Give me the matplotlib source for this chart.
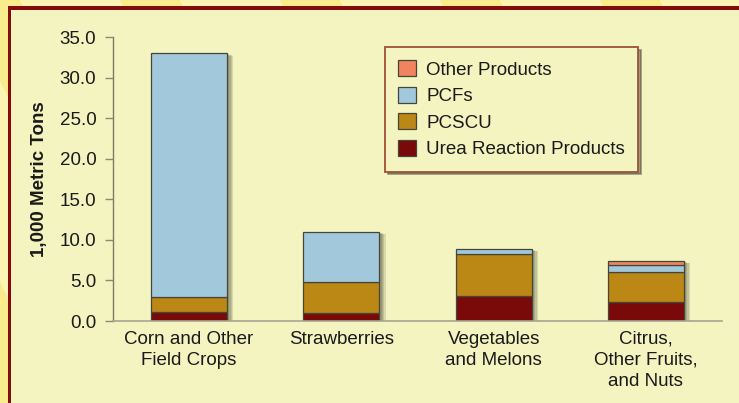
import matplotlib
matplotlib.use('Agg')
import matplotlib.pyplot as plt
import matplotlib.patheffects as pe
from matplotlib.patches import Rectangle, Polygon
import numpy as np

plt.rcParams['font.family'] = ['Liberation Sans', 'DejaVu Sans']

categories = ['Corn and Other\nField Crops', 'Strawberries',
              'Vegetables\nand Melons', 'Citrus,\nOther Fruits,\nand Nuts']
urea = [1.1, 1.0, 3.1, 2.3]
pcscu = [1.8, 3.8, 5.1, 3.8]
pcfs = [30.1, 6.2, 0.7, 0.8]
other = [0.0, 0.0, 0.0, 0.5]

c_urea = '#7a0a0a'
c_pcscu = '#bb8715'
c_pcfs = '#a2c8dc'
c_other = '#f0845e'

fs = 13.5

fig = plt.figure(figsize=(7.39, 4.03), dpi=100)
fig.patch.set_facecolor('#fcf6b4')

# striped outer background, dark red frame and cream panel
W, H = 739, 403
for x0 in range(-200, 900, 160):
    fig.patches.append(Polygon([(x0 / W, 1), ((x0 + 60) / W, 1),
                                ((x0 + 260) / W, 0), ((x0 + 200) / W, 0)],
                               closed=True, transform=fig.transFigure,
                               facecolor='#f8ec8c', edgecolor='none', zorder=-3))
fig.patches.append(Rectangle((8 / W, 0), 1, (H - 6) / H, transform=fig.transFigure,
                             facecolor='#840c0c', edgecolor='none', zorder=-2))
fig.patches.append(Rectangle((11 / W, 0), 1, (H - 10) / H, transform=fig.transFigure,
                             facecolor='#f3f4c0', edgecolor='none', zorder=-1))

ax = fig.add_axes([113 / W, 82 / H, 609 / W, 284 / H])
ax.set_facecolor('none')

x = np.arange(len(categories))
width = 0.5
urea_a = np.array(urea)
pcscu_a = np.array(pcscu)
pcfs_a = np.array(pcfs)
other_a = np.array(other)
totals = urea_a + pcscu_a + pcfs_a + other_a

# soft drop shadow behind each stack
shadow = [pe.SimplePatchShadow(offset=(d, -d * 0.4), shadow_rgbFace='black', alpha=0.11)
          for d in (1.5, 2.5, 3.5, 4.5)]
ax.bar(x, totals, width, color='none', linewidth=0, path_effects=shadow, zorder=1)

kw = dict(width=width, edgecolor='#45453a', linewidth=0.9, zorder=2)
b1 = ax.bar(x, urea_a, color=c_urea, label='Urea Reaction Products', **kw)
b2 = ax.bar(x, pcscu_a, bottom=urea_a, color=c_pcscu, label='PCSCU', **kw)
b3 = ax.bar(x, pcfs_a, bottom=urea_a + pcscu_a, color=c_pcfs, label='PCFs', **kw)
mask = other_a > 0
b4 = ax.bar(x[mask], other_a[mask], bottom=(urea_a + pcscu_a + pcfs_a)[mask],
            color=c_other, label='Other Products', **kw)

ax.set_xlim(-0.5, 3.5)
ax.set_ylim(0, 35)
ax.set_yticks(np.arange(0, 35.1, 5))
ax.set_yticklabels([f'{v:.1f}' for v in np.arange(0, 35.1, 5)])
ax.set_xticks(x)
ax.set_xticklabels(categories, linespacing=1.32)
ax.tick_params(axis='x', length=0, pad=7, labelsize=fs, colors='#1a1a1a')
ax.tick_params(axis='y', length=6, width=1, pad=6, labelsize=fs, colors='#8a8a70',
               labelcolor='#1a1a1a')
for s in ('top', 'right'):
    ax.spines[s].set_visible(False)
ax.spines['left'].set_color('#7d7d62')
ax.spines['bottom'].set_color('#a5a590')
ax.spines['left'].set_linewidth(1)
ax.spines['bottom'].set_linewidth(1.2)

ax.set_ylabel('1,000 Metric Tons', fontsize=fs, fontweight='bold', color='#1a1a1a',
              labelpad=8)

leg = ax.legend([b4, b3, b2, b1],
                ['Other Products', 'PCFs', 'PCSCU', 'Urea Reaction Products'],
                loc='upper left', bbox_to_anchor=(385 / W, 1 - 47 / H),
                bbox_transform=fig.transFigure, fontsize=fs, frameon=True,
                fancybox=False, shadow=True, handlelength=0.95, handleheight=0.95,
                handletextpad=0.55, labelspacing=0.43, borderpad=0.7,
                borderaxespad=0)
leg.get_frame().set_facecolor('#f3f4c0')
leg.get_frame().set_edgecolor('#a24f35')
leg.get_frame().set_linewidth(1.3)
leg.get_frame().set_alpha(1)
for t in leg.get_texts():
    t.set_color('#1a1a1a')

plt.savefig('out.png', dpi=100, facecolor=fig.get_facecolor())
